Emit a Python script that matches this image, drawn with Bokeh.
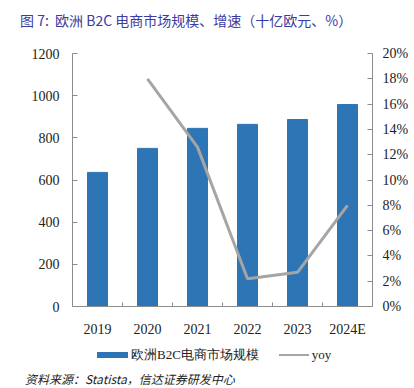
from bokeh.plotting import figure
from bokeh.layouts import column
from bokeh.models import (Range1d, LinearAxis, FixedTicker, PrintfTickFormatter,
                          Div)
from bokeh.embed import file_html
from bokeh.resources import INLINE

years = ["2019", "2020", "2021", "2022", "2023", "2024E"]
market = [636, 750, 845, 864, 887, 958]
yoy_years = ["2020", "2021", "2022", "2023", "2024E"]
yoy = [18.0, 12.6, 2.2, 2.7, 8.0]
left_ticks = [0, 200, 400, 600, 800, 1000, 1200]
right_ticks = [0, 2, 4, 6, 8, 10, 12, 14, 16, 18, 20]
title_text = "图 7:&nbsp; 欧洲 B2C 电商市场规模、增速（十亿欧元、%）"
source_text = "资料来源：Statista，信达证券研发中心"
bar_label = "欧洲B2C电商市场规模"
line_label = "yoy"

idx = list(range(len(years)))
yoy_x = [years.index(y) for y in yoy_years]

SERIF = "Liberation Serif"
AXIS_COLOR = "#8c8c8c"
TEXT_COLOR = "#222222"
BAR_COLOR = "#2E75B6"
LINE_COLOR = "#A5A5A5"
W = 410

title_div = Div(text=title_text, width=W, height=36, margin=0,
                styles={"font-family": "'Noto Sans CJK SC', sans-serif",
                        "font-size": "14px", "color": "#3b3ba0",
                        "padding-left": "20px", "padding-top": "10px",
                        "line-height": "20px", "white-space": "nowrap",
                        "box-sizing": "border-box"})

p = figure(frame_width=300, frame_height=253, output_backend="svg",
           toolbar_location=None, margin=0,
           x_range=Range1d(-0.5, len(years) - 0.5),
           y_range=Range1d(left_ticks[0], left_ticks[-1]),
           min_border_left=72, min_border_right=38, min_border_top=17,
           min_border_bottom=32)
p.extra_y_ranges = {"pct": Range1d(right_ticks[0], right_ticks[-1])}
p.xgrid.visible = False
p.ygrid.visible = False
p.outline_line_color = None

# x axis
xa = p.xaxis[0]
xa.ticker = FixedTicker(ticks=idx, minor_ticks=[i + 0.5 for i in idx[:-1]])
xa.major_label_overrides = {i: y for i, y in zip(idx, years)}
xa.major_tick_line_color = None
xa.minor_tick_in = 4
xa.minor_tick_out = 0
xa.minor_tick_line_color = AXIS_COLOR
xa.axis_line_color = AXIS_COLOR
xa.major_label_text_font = SERIF
xa.major_label_text_font_size = "14px"
xa.major_label_text_color = TEXT_COLOR
xa.major_label_standoff = 9

# left axis
ya = p.yaxis[0]
ya.ticker = FixedTicker(ticks=left_ticks)
ya.major_tick_in = 5
ya.major_tick_out = 0
ya.minor_tick_line_color = None
ya.major_tick_line_color = AXIS_COLOR
ya.axis_line_color = AXIS_COLOR
ya.major_label_text_font = SERIF
ya.major_label_text_font_size = "14px"
ya.major_label_text_color = TEXT_COLOR
ya.major_label_standoff = 13

# right axis
ra = LinearAxis(y_range_name="pct", ticker=FixedTicker(ticks=right_ticks),
                formatter=PrintfTickFormatter(format="%d%%"))
ra.major_tick_in = 5
ra.major_tick_out = 0
ra.minor_tick_line_color = None
ra.major_tick_line_color = AXIS_COLOR
ra.axis_line_color = AXIS_COLOR
ra.major_label_text_font = SERIF
ra.major_label_text_font_size = "14px"
ra.major_label_text_color = TEXT_COLOR
ra.major_label_standoff = 10
p.add_layout(ra, "right")

p.vbar(x=idx, top=market, width=0.4, fill_color=BAR_COLOR, line_color=BAR_COLOR)
p.line(x=yoy_x, y=yoy, y_range_name="pct", line_color=LINE_COLOR, line_width=3)

legend_html = (
    f'<span style="display:inline-block;width:31px;height:6px;'
    f'background:{BAR_COLOR};vertical-align:middle"></span>'
    f'<span style="margin-left:3px;vertical-align:middle">{bar_label}</span>'
    f'<span style="display:inline-block;width:30px;height:2px;'
    f'background:{LINE_COLOR};margin-left:20px;vertical-align:middle"></span>'
    f'<span style="margin-left:3px;vertical-align:middle">{line_label}</span>'
)
legend_div = Div(text=legend_html, width=W, height=30, margin=0,
                 styles={"font-family": f"'{SERIF}', serif",
                         "font-size": "13px", "color": TEXT_COLOR,
                         "padding-left": "97px", "padding-top": "5px",
                         "line-height": "20px", "white-space": "nowrap",
                         "box-sizing": "border-box"})

source_div = Div(text=source_text, width=W, height=20, margin=0,
                 styles={"font-family": "'Noto Sans CJK SC', sans-serif",
                         "font-size": "12px", "font-style": "italic",
                         "color": TEXT_COLOR, "padding-left": "25px",
                         "padding-top": "3px", "line-height": "14px",
                         "white-space": "nowrap", "box-sizing": "border-box"})

layout = column(title_div, p, legend_div, source_div, spacing=0, margin=0)

open("out.html", "w").write(file_html(layout, INLINE))
